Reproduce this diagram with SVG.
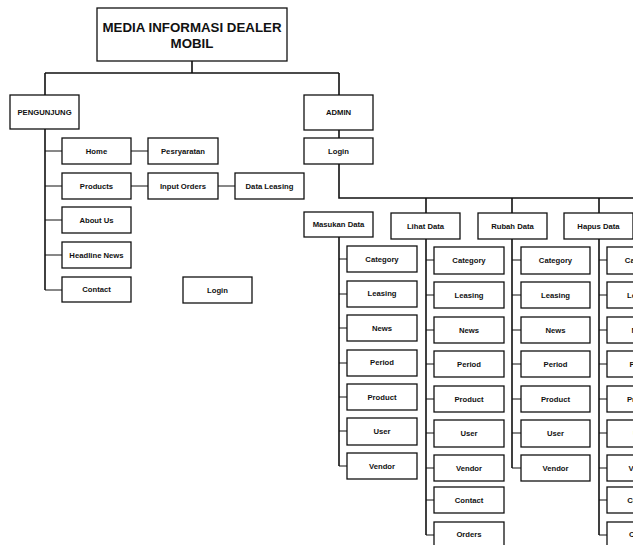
<svg xmlns="http://www.w3.org/2000/svg" width="633" height="545" viewBox="0 0 633 545">
<style>
.b{fill:#fff;stroke:#111;stroke-width:1.3}
.t{font-family:"Liberation Sans",Arial,sans-serif;font-weight:bold;font-size:7.7px;fill:#111;text-anchor:middle}
.tt{font-family:"Liberation Sans",Arial,sans-serif;font-weight:bold;font-size:13.3px;fill:#111;text-anchor:middle}
.l{stroke:#111;stroke-width:1.6;fill:none}
.s{stroke:#111;stroke-width:1;fill:none}
</style>
<rect width="633" height="545" fill="#fff"/>
<g id="connectors">
<path class="l" d="M192 61V73M45 73H339M45 73V95M339 73V95M339 130V138M339 164V198H633M426 198V213M512 198V213M599 198V213"/>
<path class="l" d="M45 129V290"/>
<path class="s" d="M45 151H62M45 186H62M45 220H62M45 255H62M45 290H62M131 151H148M131 186H148M218 186H235"/>
<path class="l" d="M339 237V466M426 239V535M512 239V468M599 239V535"/>
<path class="s" d="M339 259H347M339 294H347M339 328H347M339 363H347M339 397H347M339 431H347M339 466H347"/>
<path class="s" d="M426 260H434M426 295H434M426 330H434M426 364H434M426 399H434M426 433H434M426 468H434M426 500H434M426 535H434"/>
<path class="s" d="M512 260H521M512 295H521M512 330H521M512 364H521M512 399H521M512 433H521M512 468H521"/>
<path class="s" d="M599 260H607M599 295H607M599 330H607M599 364H607M599 399H607M599 433H607M599 468H607M599 500H607M599 535H607"/>
</g>
<g id="title"><rect class="b" x="97" y="8" width="190" height="53"/><text class="tt" x="192" y="31.5">MEDIA INFORMASI DEALER</text><text class="tt" x="192" y="48">MOBIL</text></g>
<g id="pengunjung"><rect class="b" x="10" y="95" width="69" height="34"/><text class="t" x="44.5" y="114.5">PENGUNJUNG</text></g>
<g id="home"><rect class="b" x="62" y="138" width="69" height="26"/><text class="t" x="96.5" y="153.8">Home</text></g>
<g id="products"><rect class="b" x="62" y="173" width="69" height="26"/><text class="t" x="96.5" y="188.8">Products</text></g>
<g id="aboutus"><rect class="b" x="62" y="207" width="69" height="26"/><text class="t" x="96.5" y="222.8">About Us</text></g>
<g id="headline"><rect class="b" x="62" y="242" width="69" height="26"/><text class="t" x="96.5" y="257.8">Headline News</text></g>
<g id="contact"><rect class="b" x="62" y="277" width="69" height="25"/><text class="t" x="96.5" y="292.3">Contact</text></g>
<g id="pesryaratan"><rect class="b" x="148" y="138" width="70" height="26"/><text class="t" x="183" y="153.8">Pesryaratan</text></g>
<g id="inputorders"><rect class="b" x="148" y="173" width="70" height="26"/><text class="t" x="183" y="188.8">Input Orders</text></g>
<g id="dataleasing"><rect class="b" x="235" y="173" width="69" height="26"/><text class="t" x="269.5" y="188.8">Data Leasing</text></g>
<g id="login-left"><rect class="b" x="183" y="277" width="69" height="26"/><text class="t" x="217.5" y="292.8">Login</text></g>
<g id="admin"><rect class="b" x="304" y="95" width="69" height="35"/><text class="t" x="338.5" y="115">ADMIN</text></g>
<g id="login-admin"><rect class="b" x="304" y="138" width="69" height="26"/><text class="t" x="338.5" y="153.8">Login</text></g>
<g id="masukan"><rect class="b" x="304" y="212" width="69" height="25"/><text class="t" x="338.5" y="227">Masukan Data</text></g>
<g id="lihat"><rect class="b" x="391" y="213" width="69" height="26"/><text class="t" x="425.5" y="228.8">Lihat Data</text></g>
<g id="rubah"><rect class="b" x="478" y="213" width="69" height="26"/><text class="t" x="512.5" y="228.8">Rubah Data</text></g>
<g id="hapus"><rect class="b" x="564" y="213" width="69" height="26"/><text class="t" x="598.5" y="228.8">Hapus Data</text></g>
<g id="m-category"><rect class="b" x="347" y="246" width="70" height="26"/><text class="t" x="382" y="261.5">Category</text></g>
<g id="m-leasing"><rect class="b" x="347" y="281" width="70" height="26"/><text class="t" x="382" y="296">Leasing</text></g>
<g id="m-news"><rect class="b" x="347" y="315" width="70" height="26"/><text class="t" x="382" y="330.5">News</text></g>
<g id="m-period"><rect class="b" x="347" y="350" width="70" height="26"/><text class="t" x="382" y="365">Period</text></g>
<g id="m-product"><rect class="b" x="347" y="384" width="70" height="26"/><text class="t" x="382" y="399.5">Product</text></g>
<g id="m-user"><rect class="b" x="347" y="418" width="70" height="27"/><text class="t" x="382" y="434">User</text></g>
<g id="m-vendor"><rect class="b" x="347" y="453" width="70" height="26"/><text class="t" x="382" y="468.5">Vendor</text></g>
<g id="l-category"><rect class="b" x="434" y="247" width="70" height="27"/><text class="t" x="469" y="263">Category</text></g>
<g id="l-leasing"><rect class="b" x="434" y="282" width="70" height="26"/><text class="t" x="469" y="297.8">Leasing</text></g>
<g id="l-news"><rect class="b" x="434" y="317" width="70" height="26"/><text class="t" x="469" y="332.8">News</text></g>
<g id="l-period"><rect class="b" x="434" y="351" width="70" height="26"/><text class="t" x="469" y="366.8">Period</text></g>
<g id="l-product"><rect class="b" x="434" y="386" width="70" height="26"/><text class="t" x="469" y="401.8">Product</text></g>
<g id="l-user"><rect class="b" x="434" y="420" width="70" height="27"/><text class="t" x="469" y="436.3">User</text></g>
<g id="l-vendor"><rect class="b" x="434" y="455" width="70" height="26"/><text class="t" x="469" y="470.8">Vendor</text></g>
<g id="l-contact"><rect class="b" x="434" y="487" width="70" height="26"/><text class="t" x="469" y="502.8">Contact</text></g>
<g id="l-orders"><rect class="b" x="434" y="522" width="70" height="26"/><text class="t" x="469" y="537.3">Orders</text></g>
<g id="r-category"><rect class="b" x="521" y="247" width="69" height="27"/><text class="t" x="555.5" y="263">Category</text></g>
<g id="r-leasing"><rect class="b" x="521" y="282" width="69" height="26"/><text class="t" x="555.5" y="297.8">Leasing</text></g>
<g id="r-news"><rect class="b" x="521" y="317" width="69" height="26"/><text class="t" x="555.5" y="332.8">News</text></g>
<g id="r-period"><rect class="b" x="521" y="351" width="69" height="26"/><text class="t" x="555.5" y="366.8">Period</text></g>
<g id="r-product"><rect class="b" x="521" y="386" width="69" height="26"/><text class="t" x="555.5" y="401.8">Product</text></g>
<g id="r-user"><rect class="b" x="521" y="420" width="69" height="27"/><text class="t" x="555.5" y="436.3">User</text></g>
<g id="r-vendor"><rect class="b" x="521" y="455" width="69" height="26"/><text class="t" x="555.5" y="470.8">Vendor</text></g>
<g id="h-category"><rect class="b" x="607" y="247" width="69" height="27"/><text class="t" x="641.5" y="263">Category</text></g>
<g id="h-leasing"><rect class="b" x="607" y="282" width="69" height="26"/><text class="t" x="641.5" y="297.8">Leasing</text></g>
<g id="h-news"><rect class="b" x="607" y="317" width="69" height="26"/><text class="t" x="641.5" y="332.8">News</text></g>
<g id="h-period"><rect class="b" x="607" y="351" width="69" height="26"/><text class="t" x="641.5" y="366.8">Period</text></g>
<g id="h-product"><rect class="b" x="607" y="386" width="69" height="26"/><text class="t" x="641.5" y="401.8">Product</text></g>
<g id="h-user"><rect class="b" x="607" y="420" width="69" height="27"/><text class="t" x="641.5" y="436.3">User</text></g>
<g id="h-vendor"><rect class="b" x="607" y="455" width="69" height="26"/><text class="t" x="641.5" y="470.8">Vendor</text></g>
<g id="h-contact"><rect class="b" x="607" y="487" width="69" height="26"/><text class="t" x="641.5" y="502.8">Contact</text></g>
<g id="h-orders"><rect class="b" x="607" y="522" width="69" height="26"/><text class="t" x="641.5" y="537.3">Orders</text></g>
</svg>
